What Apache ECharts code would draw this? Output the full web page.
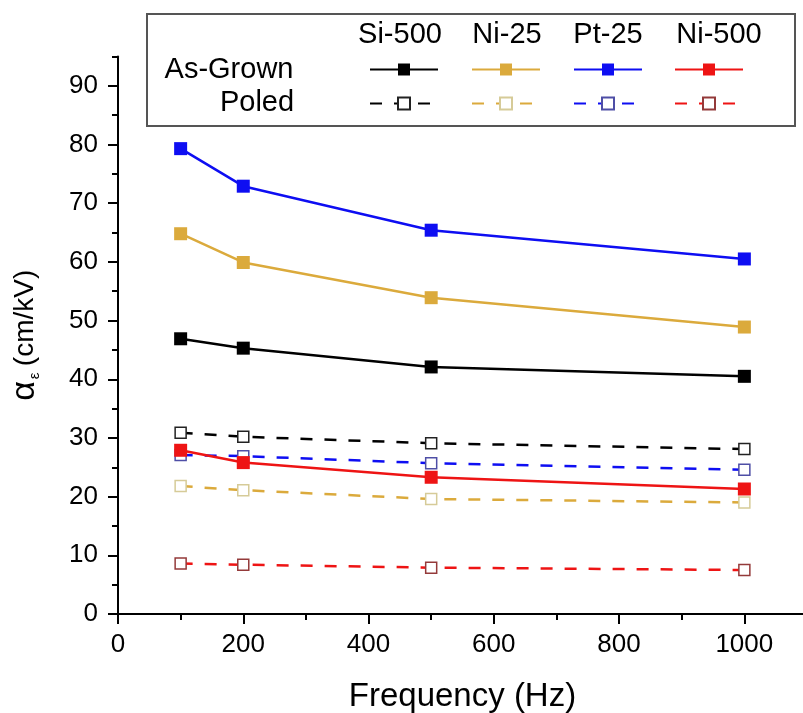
<!DOCTYPE html>
<html>
<head>
<meta charset="utf-8">
<script src="https://cdn.jsdelivr.net/npm/echarts@6/dist/echarts.min.js"></script>
<style>
html,body{margin:0;padding:0;background:#fff;}
#chart{width:803px;height:713px;}
</style>
</head>
<body>
<div id="chart"></div>
<script>
// ---- data ----
const frequencies = [100, 200, 500, 1000];
const samples = ['Si-500', 'Ni-25', 'Pt-25', 'Ni-500'];
const si500Grown = [46.9, 45.3, 42.1, 40.5];
const ni25Grown  = [64.8, 59.9, 53.9, 48.9];
const pt25Grown  = [79.3, 72.9, 65.4, 60.5];
const ni500Grown = [27.9, 25.8, 23.3, 21.3];
const si500Poled = [30.9, 30.2, 29.1, 28.1];
const ni25Poled  = [21.8, 21.1, 19.6, 19.0];
const pt25Poled  = [27.1, 26.9, 25.7, 24.6];
const ni500Poled = [8.6, 8.4, 7.9, 7.5];
const xTicks = [0, 200, 400, 600, 800, 1000];
const yTicks = [0, 10, 20, 30, 40, 50, 60, 70, 80, 90];

const grownData = [si500Grown, ni25Grown, pt25Grown, ni500Grown];
const poledData = [si500Poled, ni25Poled, pt25Poled, ni500Poled];
const lineColors = ['#000000', '#DBAA3C', '#0E0EF2', '#EE1414'];
const poledBorder = ['#222222', '#D6CB98', '#4E4EA6', '#943A3A'];
const FONT = '"Liberation Sans", Arial, sans-serif';

const pair = arr => arr.map((v, i) => [frequencies[i], v]);

const series = [];
samples.forEach((s, i) => {
  series.push({
    name: s + ' Poled', type: 'line', data: pair(poledData[i]),
    symbol: 'rect', symbolSize: 11, z: 2,
    lineStyle: { color: lineColors[i], width: 2.5, type: [12, 12] },
    itemStyle: { color: '#ffffff', borderColor: poledBorder[i], borderWidth: 1.5 },
    animation: false
  });
});
samples.forEach((s, i) => {
  series.push({
    name: s + ' As-Grown', type: 'line', data: pair(grownData[i]),
    symbol: 'rect', symbolSize: 13, z: 3,
    lineStyle: { color: lineColors[i], width: 2.5 },
    itemStyle: { color: lineColors[i] },
    animation: false
  });
});

const iconCenters = [403, 505, 607, 708];
const headCenters = [400, 507, 608, 719];
const legends = [];
samples.forEach((s, i) => {
  legends.push({
    data: [s + ' As-Grown'], left: iconCenters[i] - 34, top: 62,
    itemWidth: 68, itemHeight: 15, padding: 0, itemGap: 0,
    formatter: () => '', selectedMode: false, textStyle: { fontSize: 1 }
  });
  legends.push({
    data: [s + ' Poled'], left: iconCenters[i] - 34, top: 96,
    itemWidth: 68, itemHeight: 15, padding: 0, itemGap: 0,
    formatter: () => '', selectedMode: false, textStyle: { fontSize: 1 }
  });
});

const graphics = [
  { type: 'rect', shape: { x: 147, y: 14, width: 648, height: 112 },
    style: { fill: 'none', stroke: '#555555', lineWidth: 2 }, z: 10 },
  { type: 'text', x: 229, y: 70, style: { text: 'As-Grown', font: '29px ' + FONT, fill: '#000', align: 'center', verticalAlign: 'middle' }, z: 10 },
  { type: 'text', x: 257, y: 103, style: { text: 'Poled', font: '29px ' + FONT, fill: '#000', align: 'center', verticalAlign: 'middle' }, z: 10 }
];
samples.forEach((s, i) => {
  graphics.push({ type: 'text', x: headCenters[i], y: 35,
    style: { text: s, font: '29px ' + FONT, fill: '#000', align: 'center', verticalAlign: 'middle' }, z: 10 });
});

const chart = echarts.init(document.getElementById('chart'), null, { renderer: 'canvas' });
chart.setOption({
  animation: false,
  backgroundColor: '#ffffff',
  textStyle: { fontFamily: FONT },
  grid: [
    { left: 118, right: -4, top: 56.5, bottom: 99, outerBoundsMode: 'none', containLabel: false },
    { left: 118, right: 58.7, top: 85.85, bottom: 99, outerBoundsMode: 'none', containLabel: false }
  ],
  legend: legends,
  graphic: graphics,
  xAxis: [
    { type: 'value', gridIndex: 0, min: 0, max: 1100, interval: 100,
      axisLine: { show: true, onZero: false, lineStyle: { color: '#000', width: 2 } },
      axisTick: { show: true, inside: false, length: 6, lineStyle: { color: '#000', width: 2 } },
      axisLabel: { show: false }, splitLine: { show: false },
      name: 'Frequency (Hz)', nameLocation: 'middle', nameGap: 66,
      nameTextStyle: { fontSize: 33, color: '#000', fontFamily: FONT } },
    { type: 'value', gridIndex: 1, min: 0, max: 1000, interval: 200,
      axisLine: { show: false },
      axisTick: { show: true, inside: false, length: 10, lineStyle: { color: '#000', width: 2 } },
      axisLabel: { show: true, margin: 18, fontSize: 26, color: '#000', fontFamily: FONT,
        formatter: v => xTicks.includes(v) ? String(v) : '' },
      splitLine: { show: false } }
  ],
  yAxis: [
    { type: 'value', gridIndex: 0, min: 0, max: 95, interval: 5,
      axisLine: { show: true, onZero: false, lineStyle: { color: '#000', width: 2 } },
      axisTick: { show: true, inside: false, length: 6, lineStyle: { color: '#000', width: 2 } },
      axisLabel: { show: false }, splitLine: { show: false },
      name: '{a|α}{s|ε} {b|(cm/kV)}', nameLocation: 'middle', nameGap: 76,
      nameTextStyle: { color: '#000', fontFamily: FONT,
        rich: {
          a: { fontSize: 34, fontFamily: FONT, color: '#000' },
          s: { fontSize: 15, fontFamily: FONT, color: '#000', verticalAlign: 'bottom', padding: [18, 3, 0, 2] },
          b: { fontSize: 28, fontFamily: FONT, color: '#000' }
        } } },
    { type: 'value', gridIndex: 1, min: 0, max: 90, interval: 10,
      axisLine: { show: false },
      axisTick: { show: true, inside: false, length: 10, lineStyle: { color: '#000', width: 2 } },
      axisLabel: { show: true, margin: 20, fontSize: 26, color: '#000', fontFamily: FONT,
        formatter: v => yTicks.includes(v) ? String(v) : '' },
      splitLine: { show: false } }
  ],
  series: series.map(s => Object.assign({ xAxisIndex: 0, yAxisIndex: 0 }, s))
});
</script>
</body>
</html>
